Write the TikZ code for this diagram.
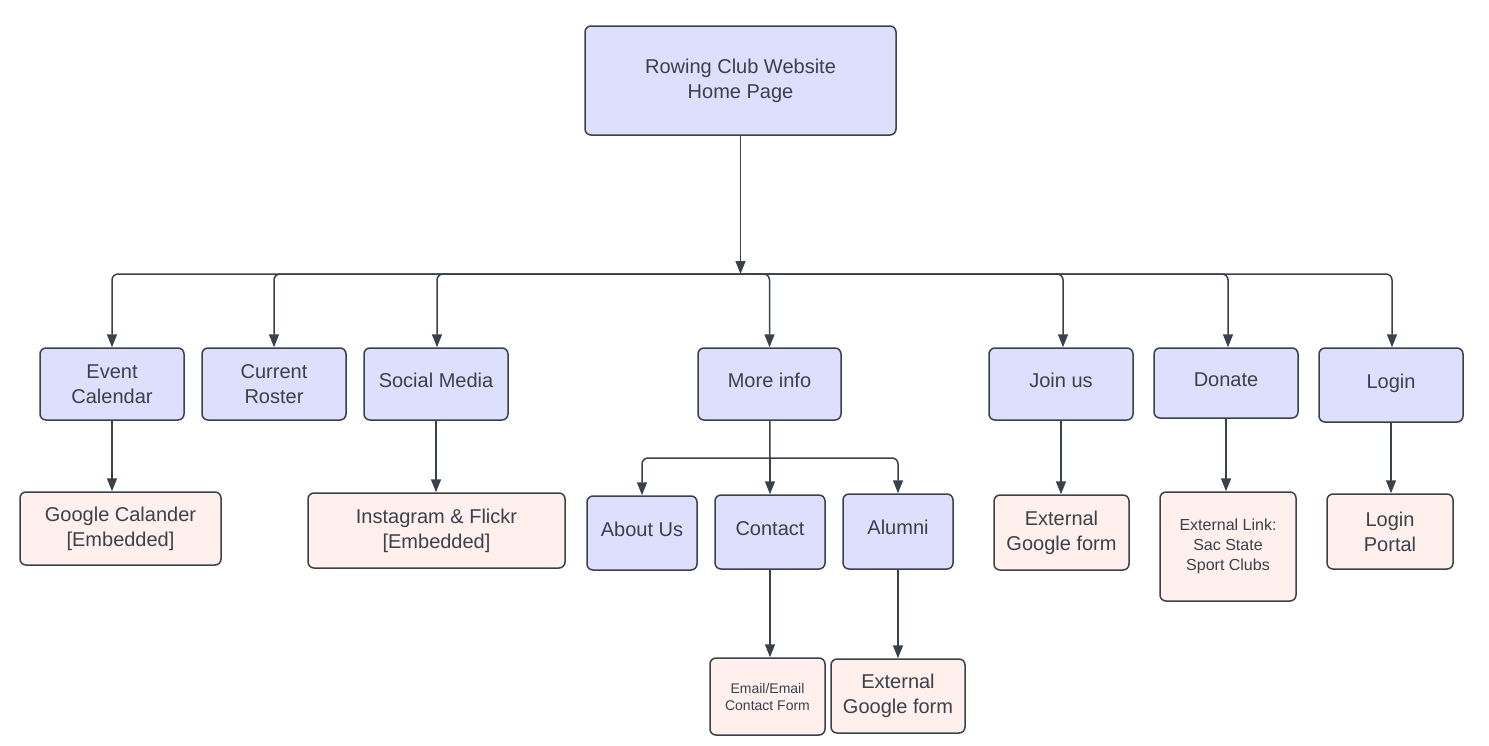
\documentclass[tikz,border=0pt]{standalone}
\usepackage{fontspec}
\setmainfont{Liberation Sans}
\usetikzlibrary{arrows.meta}

\definecolor{pagefill}{HTML}{DEDFFC}
\definecolor{linkfill}{HTML}{FFF0EE}
\definecolor{ink}{HTML}{3A414A}

\begin{document}
\begin{tikzpicture}[x=0.5pt, y=-0.5pt,
    box/.style={draw=ink, line width=0.75pt, rounded corners=3pt, text=ink, align=center,
        inner sep=0pt, font=\fontsize{10}{12.5}\selectfont},
    page/.style={box, fill=pagefill},
    link/.style={box, fill=linkfill},
    oneline/.style={text height=7.5pt, text depth=4.5pt},
    arr/.style={draw=ink, line width=0.75pt, rounded corners=3pt,
        -{Stealth[inset=0pt, length=6.5pt, width=5pt]}}]
    \useasboundingbox (0, 0) rectangle (1489, 745);

    % top
    \node[page, minimum width=155.5pt, minimum height=54.5pt] (home) at (740.5, 80.5) {Rowing Club Website\\Home Page};
    \coordinate (bus) at (740.5, 274);

    % main pages
    \node[page, minimum width=72pt, minimum height=36pt] (cal) at (112, 384) {Event\\Calendar};
    \node[page, minimum width=72pt, minimum height=36pt] (roster) at (274, 384) {Current\\Roster};
    \node[page, oneline, minimum width=72pt, minimum height=36pt] (social) at (436, 384) {Social Media};
    \node[page, oneline, minimum width=71.5pt, minimum height=36pt] (info) at (769.5, 384) {More info};
    \node[page, oneline, minimum width=72pt, minimum height=36pt] (join) at (1061, 384) {Join us};
    \node[page, oneline, minimum width=72pt, minimum height=35pt] (donate) at (1226, 383) {Donate};
    \node[page, oneline, minimum width=72pt, minimum height=37pt] (login) at (1391, 385) {Login};

    % sub pages
    \node[link, minimum width=100.5pt, minimum height=36.5pt] (gcal) at (120.5, 528.5) {Google Calander\\{[Embedded]}};
    \node[link, minimum width=128.5pt, minimum height=37.5pt] (insta) at (436.5, 530.5) {Instagram \& Flickr\\{[Embedded]}};
    \node[page, oneline, minimum width=55pt, minimum height=37pt] (about) at (642, 533) {About Us};
    \node[page, oneline, minimum width=55pt, minimum height=37pt] (contact) at (770, 532) {Contact};
    \node[page, oneline, minimum width=55pt, minimum height=37.5pt] (alumni) at (898, 531.5) {Alumni};
    \node[link, minimum width=67.5pt, minimum height=37.5pt] (gform) at (1061.5, 532.5) {External\\Google form};
    \node[link, minimum width=68pt, minimum height=54.5pt, font=\fontsize{8}{10}\selectfont] (sac) at (1228, 546.5) {External Link:\\Sac State\\Sport Clubs};
    \node[link, minimum width=63pt, minimum height=37.5pt] (portal) at (1390, 531.5) {Login\\Portal};
    \node[link, minimum width=57.5pt, minimum height=38.5pt, font=\fontsize{7}{8.5}\selectfont] (email) at (767.5, 696.5) {Email/Email\\Contact Form};
    \node[link, minimum width=67pt, minimum height=37pt] (aform) at (898, 696) {External\\Google form};

    % links
    \draw[arr] (home) -- (bus);
    \draw[arr] (bus) -| (cal);
    \draw[arr] (bus) -| (roster);
    \draw[arr] (bus) -| ([xshift=0.5pt]social.north);
    \draw[arr] (bus) -| (info);
    \draw[arr] (bus) -| ([xshift=1pt]join.north);
    \draw[arr] (bus) -| ([xshift=1pt]donate.north);
    \draw[arr] (bus) -| ([xshift=0.5pt]login.north);

    \draw[arr] (cal) -- (cal |- gcal.north);
    \draw[arr] (social) -- (social |- insta.north);
    \coordinate (split) at (770, 458);
    \draw[ink, line width=0.75pt] (info) -- (split);
    \draw[arr] (split) -| (about);
    \draw[arr] (split) -- (contact);
    \draw[arr] (split) -| (alumni);
    \draw[arr] (join) -- (join |- gform.north);
    \draw[arr] (donate) -- (donate |- sac.north);
    \draw[arr] (login) -- (login |- portal.north);
    \draw[arr] (contact) -- (contact |- email.north);
    \draw[arr] (alumni) -- (aform);
\end{tikzpicture}
\end{document}
